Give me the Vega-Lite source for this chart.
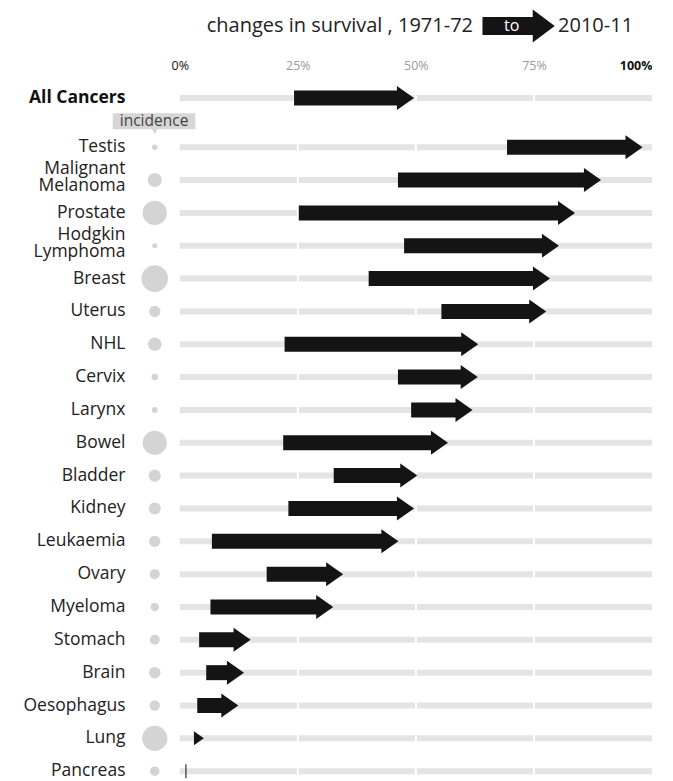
{
  "$schema": "https://vega.github.io/schema/vega-lite/v6.json",
  "padding": {"left": 22, "top": 8, "right": 0, "bottom": 0},
  "bounds": "flush",
  "spacing": 37.6,
  "config": {"view": {"stroke": null}, "font": "Open Sans", "axis": {"labelFont": "Open Sans"}},
  "datasets": {
    "survival": [
      {"name": "All Cancers", "s1971": 24.2, "s2010": 49.6, "incidence": null},
      {"name": "Testis", "s1971": 69.3, "s2010": 98.0, "incidence": 2.2},
      {"name": "Malignant Melanoma", "s1971": 46.2, "s2010": 89.2, "incidence": 14},
      {"name": "Prostate", "s1971": 25.2, "s2010": 83.7, "incidence": 41.7},
      {"name": "Hodgkin Lymphoma", "s1971": 47.5, "s2010": 80.3, "incidence": 1.8},
      {"name": "Breast", "s1971": 40.0, "s2010": 78.4, "incidence": 50},
      {"name": "Uterus", "s1971": 55.4, "s2010": 77.6, "incidence": 9},
      {"name": "NHL", "s1971": 22.2, "s2010": 63.2, "incidence": 12.8},
      {"name": "Cervix", "s1971": 46.2, "s2010": 63.1, "incidence": 3},
      {"name": "Larynx", "s1971": 49.0, "s2010": 62.0, "incidence": 2.3},
      {"name": "Bowel", "s1971": 21.9, "s2010": 56.8, "incidence": 41.6},
      {"name": "Bladder", "s1971": 32.6, "s2010": 50.3, "incidence": 10.4},
      {"name": "Kidney", "s1971": 23.0, "s2010": 49.6, "incidence": 10.1},
      {"name": "Leukaemia", "s1971": 6.8, "s2010": 46.3, "incidence": 9},
      {"name": "Ovary", "s1971": 18.4, "s2010": 34.6, "incidence": 7.1},
      {"name": "Myeloma", "s1971": 6.5, "s2010": 32.5, "incidence": 5},
      {"name": "Stomach", "s1971": 4.1, "s2010": 15.0, "incidence": 7.1},
      {"name": "Brain", "s1971": 5.6, "s2010": 13.6, "incidence": 9.4},
      {"name": "Oesophagus", "s1971": 3.7, "s2010": 12.4, "incidence": 7.5},
      {"name": "Lung", "s1971": 3.2, "s2010": 5.1, "incidence": 45},
      {"name": "Pancreas", "s1971": 1.2, "s2010": 1.3, "incidence": 6.5}
    ],
    "gaps": [{"pct": 25}, {"pct": 50}, {"pct": 75}]
  },
  "vconcat": [
    {
      "width": 510,
      "height": 36,
      "data": {"values": [{}]},
      "layer": [
        {
          "mark": {"type": "text", "align": "right", "baseline": "middle", "fontSize": 20, "color": "#222"},
          "encoding": {
            "x": {"datum": 62.1, "type": "quantitative", "scale": {"domain": [-8, 100], "nice": false, "zero": false}, "axis": null},
            "y": {"datum": "legend", "type": "nominal", "axis": null},
            "text": {"value": "changes in survival , 1971-72"}
          }
        },
        {
          "mark": {"type": "bar", "height": 18, "color": "#141414", "x2Offset": -21},
          "encoding": {
            "x": {"datum": 64.1, "type": "quantitative", "axis": null},
            "x2": {"datum": 79.4},
            "y": {"datum": "legend", "type": "nominal", "axis": null}
          }
        },
        {
          "mark": {"type": "point", "shape": "M-1.33,-1L0,0L-1.33,1Z", "filled": true, "opacity": 1, "color": "#141414", "size": 1089, "strokeWidth": 0},
          "encoding": {
            "x": {"datum": 79.4, "type": "quantitative", "axis": null},
            "y": {"datum": "legend", "type": "nominal", "axis": null}
          }
        },
        {
          "mark": {"type": "text", "align": "center", "baseline": "middle", "fontSize": 16, "color": "white"},
          "encoding": {
            "x": {"datum": 70.3, "type": "quantitative", "axis": null},
            "y": {"datum": "legend", "type": "nominal", "axis": null},
            "text": {"value": "to"}
          }
        },
        {
          "mark": {"type": "text", "align": "left", "baseline": "middle", "fontSize": 20, "color": "#222"},
          "encoding": {
            "x": {"datum": 80.1, "type": "quantitative", "axis": null},
            "y": {"datum": "legend", "type": "nominal", "axis": null},
            "text": {"value": "2010-11"}
          }
        }
      ]
    },
    {
      "bounds": "flush",
      "spacing": 16.2,
      "vconcat": [
        {
          "width": 510,
          "height": 32.84,
          "layer": [
            {
              "data": {"name": "survival"},
              "transform": [{"filter": "datum.name == 'All Cancers'"}],
              "mark": {"type": "bar", "height": 6, "color": "#e4e4e4"},
              "encoding": {
                "x": {"datum": 0, "type": "quantitative", "scale": {"domain": [-8, 100], "nice": false, "zero": false},
                  "axis": {"orient": "top", "values": [0, 25, 50, 75, 100], "labelExpr": "datum.value + '%'", "domain": false, "ticks": false, "grid": false, "labelPadding": 9, "labelFontSize": 12.5, "title": null,
                    "labelColor": {"condition": {"test": "datum.value == 0 || datum.value == 100", "value": "#111"}, "value": "#9a9a9a"},
                    "labelFontWeight": {"condition": {"test": "datum.value == 100", "value": "bold"}, "value": "normal"}}},
                "x2": {"datum": 100},
                "y": {"field": "name", "type": "nominal", "sort": null,
                  "axis": {"title": null, "domain": false, "ticks": false, "labelFontSize": 17.5, "labelFontWeight": "bold", "labelColor": "#111", "labelPadding": 17}}
              }
            },
            {
              "data": {"name": "gaps"},
              "mark": {"type": "rule", "color": "white", "strokeWidth": 2},
              "encoding": {"x": {"field": "pct", "type": "quantitative"}}
            },
            {
              "data": {"name": "survival"},
              "transform": [{"filter": "datum.name == 'All Cancers'"}],
              "mark": {"type": "bar", "height": 15, "color": "#141414", "x2Offset": -16},
              "encoding": {
                "x": {"field": "s1971", "type": "quantitative"},
                "x2": {"field": "s2010"},
                "y": {"field": "name", "type": "nominal", "sort": null}
              }
            },
            {
              "data": {"name": "survival"},
              "transform": [{"filter": "datum.name == 'All Cancers'"}],
              "mark": {"type": "point", "shape": "M-1.42,-1L0,0L-1.42,1Z", "filled": true, "opacity": 1, "color": "#141414", "size": 576, "strokeWidth": 0},
              "encoding": {
                "x": {"field": "s2010", "type": "quantitative"},
                "y": {"field": "name", "type": "nominal", "sort": null}
              }
            }
          ]
        },
        {
          "width": 510,
          "height": 656.8,
          "layer": [
            {
              "data": {"name": "survival"},
              "transform": [{"filter": "datum.name != 'All Cancers'"}],
              "mark": {"type": "bar", "height": 6, "color": "#e4e4e4"},
              "encoding": {
                "x": {"datum": 0, "type": "quantitative", "scale": {"domain": [-8, 100], "nice": false, "zero": false}, "axis": null},
                "x2": {"datum": 100},
                "y": {"field": "name", "type": "nominal", "sort": null,
                  "axis": {"title": null, "domain": false, "ticks": false, "labelFontSize": 17.5, "labelColor": "#222", "labelPadding": 17, "labelLineHeight": 17,
                    "labelOffset": {"condition": {"test": "datum.value == 'Malignant Melanoma' || datum.value == 'Hodgkin Lymphoma'", "value": -11}, "value": 0},
                    "labelExpr": "datum.label == 'Malignant Melanoma' ? ['Malignant', 'Melanoma'] : datum.label == 'Hodgkin Lymphoma' ? ['Hodgkin', 'Lymphoma'] : datum.label"}}
              }
            },
            {
              "data": {"name": "gaps"},
              "mark": {"type": "rule", "color": "white", "strokeWidth": 2},
              "encoding": {"x": {"field": "pct", "type": "quantitative", "axis": null}}
            },
            {
              "data": {"name": "survival"},
              "transform": [{"filter": "datum.name != 'All Cancers'"}, {"filter": "datum.s2010 - datum.s1971 >= 4"}],
              "mark": {"type": "bar", "height": 15, "color": "#141414", "x2Offset": -16},
              "encoding": {
                "x": {"field": "s1971", "type": "quantitative", "axis": null},
                "x2": {"field": "s2010"},
                "y": {"field": "name", "type": "nominal", "sort": null}
              }
            },
            {
              "data": {"name": "survival"},
              "transform": [{"filter": "datum.name != 'All Cancers'"}, {"filter": "datum.s2010 - datum.s1971 >= 1"}],
              "mark": {"type": "point", "shape": "M-1.42,-1L0,0L-1.42,1Z", "filled": true, "opacity": 1, "color": "#141414", "strokeWidth": 0},
              "encoding": {
                "x": {"field": "s2010", "type": "quantitative", "axis": null},
                "y": {"field": "name", "type": "nominal", "sort": null},
                "size": {"condition": {"test": "datum.s2010 - datum.s1971 < 4", "value": 196}, "value": 576}
              }
            },
            {
              "data": {"name": "survival"},
              "transform": [{"filter": "datum.name != 'All Cancers'"}, {"filter": "datum.s2010 - datum.s1971 < 1"}],
              "mark": {"type": "tick", "orient": "vertical", "thickness": 1.5, "size": 14, "color": "#141414"},
              "encoding": {
                "x": {"field": "s2010", "type": "quantitative", "axis": null},
                "y": {"field": "name", "type": "nominal", "sort": null}
              }
            },
            {
              "data": {"name": "survival"},
              "transform": [{"filter": "datum.name != 'All Cancers'"}],
              "mark": {"type": "circle", "color": "#d4d4d4", "opacity": 1},
              "encoding": {
                "x": {"datum": -5.3, "type": "quantitative", "axis": null},
                "y": {"field": "name", "type": "nominal", "sort": null},
                "size": {"field": "incidence", "type": "quantitative", "scale": {"domain": [0, 50], "range": [0, 707], "zero": true}, "legend": null}
              }
            },
            {
              "data": {"name": "survival"},
              "transform": [{"filter": "datum.name == 'Testis'"}],
              "mark": {"type": "bar", "height": 16, "yOffset": -26, "color": "#d6d6d6"},
              "encoding": {
                "x": {"datum": -14.2, "type": "quantitative", "axis": null},
                "x2": {"datum": 3.3},
                "y": {"field": "name", "type": "nominal", "sort": null}
              }
            },
            {
              "data": {"name": "survival"},
              "transform": [{"filter": "datum.name == 'Testis'"}],
              "mark": {"type": "point", "shape": "triangle-down", "filled": true, "opacity": 1, "size": 40, "yOffset": -16, "color": "#d6d6d6", "strokeWidth": 0},
              "encoding": {
                "x": {"datum": -5.3, "type": "quantitative", "axis": null},
                "y": {"field": "name", "type": "nominal", "sort": null}
              }
            },
            {
              "data": {"name": "survival"},
              "transform": [{"filter": "datum.name == 'Testis'"}],
              "mark": {"type": "text", "align": "center", "baseline": "middle", "fontSize": 15.5, "yOffset": -26, "color": "#444"},
              "encoding": {
                "x": {"datum": -5.45, "type": "quantitative", "axis": null},
                "y": {"field": "name", "type": "nominal", "sort": null},
                "text": {"value": "incidence"}
              }
            }
          ]
        }
      ]
    }
  ]
}
